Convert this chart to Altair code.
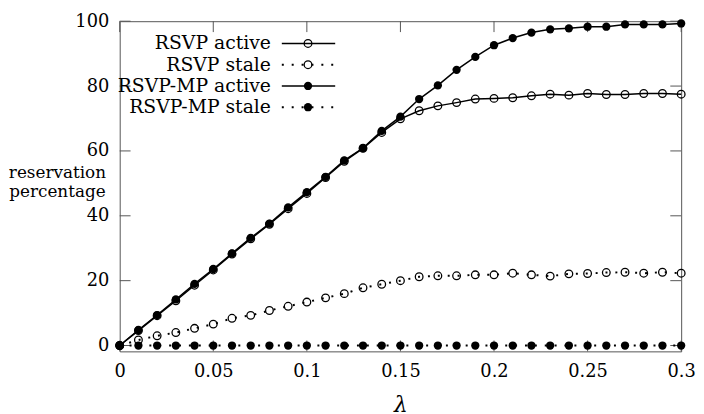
import altair as alt
import pandas as pd

# ---- data ----
lam = [0.00, 0.01, 0.02, 0.03, 0.04, 0.05, 0.06, 0.07, 0.08, 0.09, 0.10,
       0.11, 0.12, 0.13, 0.14, 0.15, 0.16, 0.17, 0.18, 0.19, 0.20,
       0.21, 0.22, 0.23, 0.24, 0.25, 0.26, 0.27, 0.28, 0.29, 0.30]

rsvp_active = [0.0, 4.6, 9.2, 13.8, 18.6, 23.3, 28.2, 32.9, 37.4, 42.2, 46.9,
               51.8, 56.8, 60.8, 65.7, 69.9, 72.4, 73.9, 74.9, 76.0, 76.2,
               76.4, 77.0, 77.5, 77.2, 77.7, 77.4, 77.4, 77.7, 77.7, 77.5]

rsvp_stale = [0.0, 1.7, 3.0, 4.0, 5.3, 6.6, 8.4, 9.3, 10.8, 12.1, 13.4,
              14.7, 16.0, 17.8, 18.9, 20.0, 21.2, 21.5, 21.5, 21.8, 21.8,
              22.3, 21.8, 21.4, 22.1, 22.2, 22.5, 22.6, 22.3, 22.6, 22.3]

mp_active = [0.0, 4.8, 9.4, 14.2, 19.0, 23.6, 28.4, 33.2, 37.6, 42.6, 47.3,
             52.0, 57.1, 60.9, 66.2, 70.6, 76.0, 80.2, 85.0, 89.0, 92.6,
             94.8, 96.5, 97.5, 97.8, 98.3, 98.3, 99.0, 99.0, 99.0, 99.3]

mp_stale = [0.0, 0.0, 0.0, 0.0, 0.0, 0.0, 0.0, 0.0, 0.0, 0.0, 0.0,
            0.0, 0.0, 0.0, 0.0, 0.0, 0.0, 0.0, 0.0, 0.0, 0.0,
            0.0, 0.0, 0.0, 0.0, 0.0, 0.0, 0.0, 0.0, 0.0, 0.0]

series_names = ["RSVP active", "RSVP stale", "RSVP-MP active", "RSVP-MP stale"]
series_values = [rsvp_active, rsvp_stale, mp_active, mp_stale]
series_filled = [False, False, True, True]
series_dotted = [False, True, False, True]

x_ticks = [0, 0.05, 0.1, 0.15, 0.2, 0.25, 0.3]
y_ticks = [0, 20, 40, 60, 80, 100]

FONT = "DejaVu Serif"
W, H = 568, 334
DOT = [2, 8]

xscale = alt.Scale(domain=[0, 0.3], nice=False, zero=False)
yscale = alt.Scale(domain=[-1.8, 100], nice=False, zero=False)

xaxis = alt.Axis(values=x_ticks, format="~g", domain=False, ticks=False, grid=False,
                 labelFlush=False,
                 labelFont=FONT, labelFontSize=18, labelColor="black", labelPadding=11,
                 title="λ", titleFont=FONT, titleFontStyle="italic", titleFontWeight="normal",
                 titleFontSize=22, titleColor="black", titleBaseline="top", titleY=44)
yaxis = alt.Axis(values=y_ticks, domain=False, ticks=False, grid=False,
                 labelFlush=False,
                 labelFont=FONT, labelFontSize=18, labelColor="black", labelPadding=11,
                 title=None)

layers = []

# tick marks (inward, mirrored)
xt = pd.DataFrame({"x": x_ticks})
yt = pd.DataFrame({"y": y_ticks})
tick_col = "#555555"
layers.append(alt.Chart(xt).mark_rule(color=tick_col, strokeWidth=1).encode(
    x=alt.X("x:Q", scale=xscale, axis=xaxis), y=alt.value(H), y2=alt.value(H - 11)))
layers.append(alt.Chart(xt).mark_rule(color=tick_col, strokeWidth=1).encode(
    x=alt.X("x:Q", scale=xscale), y=alt.value(0), y2=alt.value(11)))
layers.append(alt.Chart(yt).mark_rule(color=tick_col, strokeWidth=1).encode(
    y=alt.Y("y:Q", scale=yscale, axis=yaxis), x=alt.value(0), x2=alt.value(11)))
layers.append(alt.Chart(yt).mark_rule(color=tick_col, strokeWidth=1).encode(
    y=alt.Y("y:Q", scale=yscale), x=alt.value(W), x2=alt.value(W - 11)))

# series
for name, vals, filled, dotted in zip(series_names, series_values, series_filled, series_dotted):
    df = pd.DataFrame({"x": lam, "y": vals})
    line_kw = dict(color="black", strokeWidth=2 if dotted else 1.5)
    if dotted:
        line_kw["strokeDash"] = DOT
    layers.append(alt.Chart(df).mark_line(**line_kw).encode(
        x=alt.X("x:Q", scale=xscale), y=alt.Y("y:Q", scale=yscale)))
    if filled:
        pt = alt.Chart(df).mark_point(shape="circle", filled=True, color="black",
                                      size=70, opacity=1)
    else:
        pt = alt.Chart(df).mark_point(shape="circle", filled=False, color="black",
                                      size=60, strokeWidth=1.3, opacity=1)
    layers.append(pt.encode(x=alt.X("x:Q", scale=xscale), y=alt.Y("y:Q", scale=yscale)))

# manual gnuplot-style key
row_y = [22.5, 44, 65.5, 87]
for name, filled, dotted, ry in zip(series_names, series_filled, series_dotted, row_y):
    ld = pd.DataFrame({"label": [name]})
    layers.append(alt.Chart(ld).mark_text(font=FONT, fontSize=19, align="right",
                                          baseline="middle", color="black").encode(
        text="label:N", x=alt.value(153), y=alt.value(ry)))
    rk = dict(color="black", strokeWidth=2 if dotted else 1.5)
    if dotted:
        rk["strokeDash"] = DOT
    layers.append(alt.Chart(ld).mark_rule(**rk).encode(
        x=alt.value(164), x2=alt.value(218), y=alt.value(ry)))
    if filled:
        pt = alt.Chart(ld).mark_point(shape="circle", filled=True, color="black", size=70, opacity=1)
    else:
        pt = alt.Chart(ld).mark_point(shape="circle", filled=False, color="black", size=60,
                                      strokeWidth=1.3, opacity=1)
    layers.append(pt.encode(x=alt.value(190.5), y=alt.value(ry)))

# y axis title (horizontal, two lines)
for t, yy in zip(["reservation", "percentage"], [159, 178]):
    layers.append(alt.Chart(pd.DataFrame({"t": [t]})).mark_text(
        font=FONT, fontSize=17, align="center", baseline="alphabetic", color="black").encode(
        text="t:N", x=alt.value(-63), y=alt.value(yy)))

chart = alt.layer(*layers).properties(
    width=W, height=H,
    padding={"left": 113, "top": 11, "right": 15, "bottom": 61},
    autosize=alt.AutoSizeParams(type="none"),
    background="white",
).configure_view(stroke="#555555", strokeWidth=1)

chart.save("out.html", embed_options={"renderer": "svg", "actions": False})
